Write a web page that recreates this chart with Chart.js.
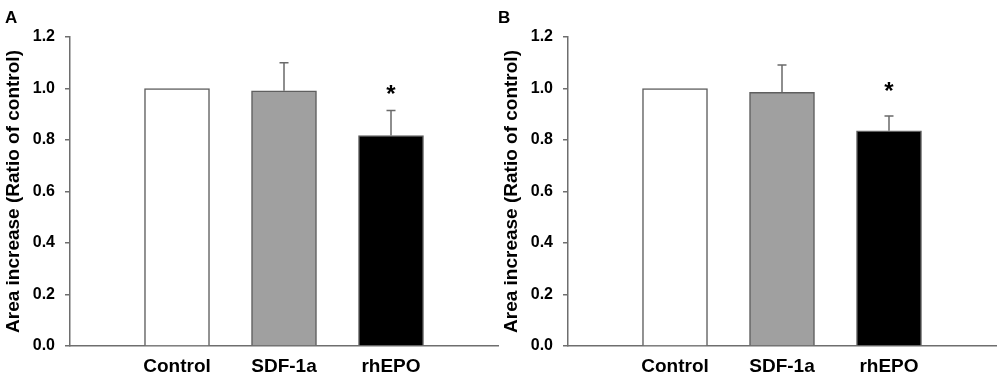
<!DOCTYPE html>
<html>
<head>
<meta charset="utf-8">
<script src="https://cdn.jsdelivr.net/npm/chart.js@4"></script>
<style>
  html, body { margin: 0; padding: 0; background: #fff; }
  #wrap { position: relative; width: 1000px; height: 377px; overflow: hidden; }
  .panel { position: absolute; top: 0; height: 377px; }
</style>
</head>
<body>
<div id="wrap">
  <div class="panel" style="left:0;width:500px;"><canvas id="cA" width="500" height="377"></canvas></div>
  <div class="panel" style="left:498px;width:502px;"><canvas id="cB" width="502" height="377"></canvas></div>
</div>
<script>
const categories = ['', 'Control', 'SDF-1a', 'rhEPO', ''];
const panelLabels = ['A', 'B'];
const valuesA = [null, 1.0, 0.991, 0.817, null];
const errorsA = [null, 0, 0.109, 0.098, null];
const valuesB = [null, 1.0, 0.985, 0.836, null];
const errorsB = [null, 0, 0.106, 0.057, null];
const sigA = [null, null, null, 1.0, null];
const sigB = [null, null, null, 1.01, null];
const yTitle = 'Area increase (Ratio of control)';
const yMin = 0, yMax = 1.2, yStep = 0.2;

const barFill = ['#ffffff', '#ffffff', '#a0a0a0', '#000000', '#ffffff'];
const barEdge = '#5f5f5f';
const axisColor = '#6e6e6e';
const FONT = 'Liberation Sans, Arial, Helvetica, sans-serif';

const extrasPlugin = {
  id: 'extras',
  afterDatasetsDraw(chart, args, opts) {
    const ctx = chart.ctx;
    const ys = chart.scales.y;
    const meta = chart.getDatasetMeta(0);
    const vals = chart.data.datasets[0].data;
    ctx.save();
    ctx.strokeStyle = '#6a6a6a';
    ctx.lineWidth = 1.5;
    opts.errors.forEach((e, i) => {
      if (e == null || e === 0 || vals[i] == null) return;
      const x = meta.data[i].x;
      const y0 = ys.getPixelForValue(vals[i]);
      const y1 = ys.getPixelForValue(vals[i] + e);
      ctx.beginPath();
      ctx.moveTo(x, y0);
      ctx.lineTo(x, y1);
      ctx.moveTo(x - 4.5, y1);
      ctx.lineTo(x + 4.5, y1);
      ctx.stroke();
    });
    ctx.fillStyle = '#000';
    ctx.font = 'bold 24px ' + FONT;
    ctx.textAlign = 'center';
    ctx.textBaseline = 'alphabetic';
    opts.sig.forEach((s, i) => {
      if (s == null) return;
      const x = meta.data[i].x;
      const y = ys.getPixelForValue(s);
      ctx.fillText('*', x, y + 13.5);
    });
    ctx.font = 'bold 17px ' + FONT;
    ctx.textAlign = 'left';
    ctx.textBaseline = 'alphabetic';
    ctx.fillText(opts.letter, opts.letterX, 23);
    ctx.restore();
  }
};

function makeChart(id, values, errors, sig, letter, letterX, padRight) {
  return new Chart(document.getElementById(id), {
    type: 'bar',
    data: {
      labels: categories,
      datasets: [{
        data: values,
        backgroundColor: barFill,
        borderColor: barEdge,
        borderWidth: 1.5,
        barThickness: 65,
        borderSkipped: 'bottom'
      }]
    },
    plugins: [extrasPlugin],
    options: {
      responsive: false,
      animation: false,
      layout: { padding: { top: 37, right: padRight, left: 0, bottom: 0 } },
      plugins: {
        legend: { display: false },
        tooltip: { enabled: false },
        extras: { errors: errors, sig: sig, letter: letter, letterX: letterX }
      },
      scales: {
        x: {
          type: 'category',
          offset: false,
          grid: { display: false },
          border: { display: true, color: axisColor, width: 1.5 },
          ticks: {
            autoSkip: false, maxRotation: 0, minRotation: 0,
            color: '#000', padding: 1,
            font: { family: FONT, size: 19, weight: 'bold' }
          },
          afterFit(scale) { scale.height = 31; }
        },
        y: {
          min: yMin, max: yMax,
          grid: { drawOnChartArea: false, drawTicks: true, tickLength: 5, color: axisColor, lineWidth: 1.5 },
          border: { display: true, color: axisColor, width: 1.5 },
          ticks: {
            stepSize: yStep, color: '#000', padding: 10,
            font: { family: FONT, size: 16, weight: 'bold' },
            callback: v => Number(v).toFixed(1)
          },
          title: {
            display: true, text: yTitle, color: '#000',
            font: { family: FONT, size: 19, weight: 'bold' },
            padding: { top: 2, bottom: 0 }
          },
          afterFit(scale) { scale.width = 70; }
        }
      }
    }
  });
}

makeChart('cA', valuesA, errorsA, sigA, panelLabels[0], 5, 2);
makeChart('cB', valuesB, errorsB, sigB, panelLabels[1], 0, 4);
</script>
</body>
</html>
